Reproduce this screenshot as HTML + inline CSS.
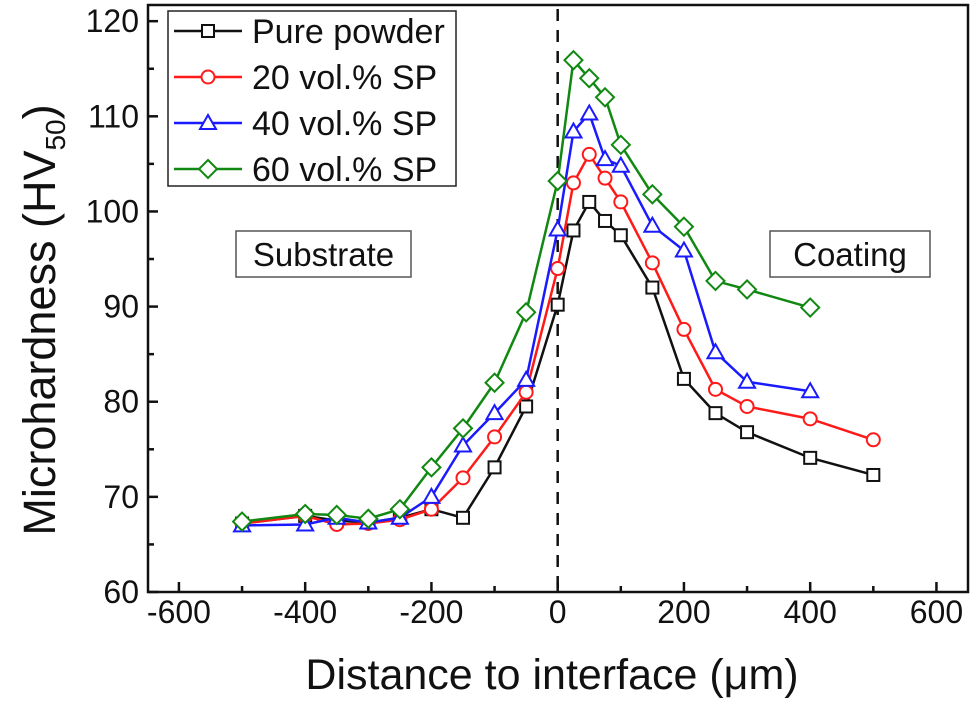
<!DOCTYPE html>
<html><head><meta charset="utf-8"><style>
body{margin:0;background:#fff;}
svg text{font-family:"Liberation Sans",Arial,sans-serif;fill:#111;}
</style></head><body>
<svg id="chart" width="975" height="703"></svg>
<script>
const xValues=[-500,-400,-350,-300,-250,-200,-150,-100,-50,0,25,50,75,100,150,200,250,300,400,500];
const purePowder=[67.2,68.0,67.5,67.3,67.8,68.7,67.8,73.1,79.5,90.2,98,101,99,97.5,92,82.4,78.8,76.8,74.1,72.3];
const sp20=[67.2,68.0,67.1,67.2,67.6,68.7,72,76.3,81,94,103,106,103.5,101,94.6,87.6,81.3,79.5,78.2,76];
const sp40=[67,67.1,67.8,67.3,67.8,70,75.4,78.8,82.3,98.1,108.4,110.3,105.5,104.8,98.5,95.9,85.2,82.1,81.1];
const sp60=[67.4,68.2,68.1,67.7,68.7,73.1,77.2,82,89.4,103.2,115.9,114,112,107,101.8,98.4,92.7,91.8,89.9];
const xTicks=[-600,-400,-200,0,200,400,600];
const yTicks=[60,70,80,90,100,110,120];
const seriesNames=["Pure powder","20 vol.% SP","40 vol.% SP","60 vol.% SP"];

const NS="http://www.w3.org/2000/svg";
const svg=document.getElementById('chart');
const L=148,R=968,T=5,B=592;
const xMin=-649,xMax=650,yMin=60,yMax=121.7;
const sx=v=>L+(v-xMin)/(xMax-xMin)*(R-L);
const sy=v=>B-(v-yMin)/(yMax-yMin)*(B-T);
function mk(tag,attrs,parent){const e=document.createElementNS(NS,tag);for(const k in attrs)e.setAttribute(k,attrs[k]);(parent||svg).appendChild(e);return e;}

const frame=mk('rect',{x:L,y:T,width:R-L,height:B-T,fill:'none',stroke:'#111','stroke-width':2.5});



const il=mk('line',{x1:sx(0),x2:sx(0),y1:T+4,y2:B,stroke:'#111','stroke-width':2.5,'stroke-dasharray':'12,9'});



for(let v=-600;v<=600;v+=100){
  const major=xTicks.includes(v);
  const t=mk('line',{x1:sx(v),x2:sx(v),y1:B,y2:B-(major?10:6),stroke:'#111','stroke-width':2.5});
  
  
}
xTicks.forEach(v=>{
  const t=mk('text',{x:sx(v),y:B+31,'font-size':32,'text-anchor':'middle'});
  t.textContent=v;
  
  
});
for(let v=60;v<=120;v+=5){
  const major=yTicks.includes(v);
  const t=mk('line',{x1:L,x2:L+(major?10:6),y1:sy(v),y2:sy(v),stroke:'#111','stroke-width':2.5});
  
  
}
yTicks.forEach(v=>{
  const t=mk('text',{x:L-9,y:sy(v)+11,'font-size':32,'text-anchor':'end'});
  t.textContent=v;
  
  
});
const xt=mk('text',{x:552,y:689,'font-size':43,'text-anchor':'middle'});
xt.textContent='Distance to interface (μm)';


const yt=mk('text',{transform:'translate(55,320) rotate(-90)','font-size':45,'text-anchor':'middle'});
yt.innerHTML='Microhardness (HV<tspan font-size="28" dy="10">50</tspan><tspan dy="-10">)</tspan>';



function marker(g,type,x,y,color){
  let e;
  if(type==='square')e=mk('rect',{x:x-6,y:y-6,width:12,height:12},g);
  else if(type==='circle')e=mk('circle',{cx:x,cy:y,r:6.5},g);
  else if(type==='triangle')e=mk('polygon',{points:`${x},${y-8} ${x-8},${y+6} ${x+8},${y+6}`},g);
  else e=mk('polygon',{points:`${x},${y-9} ${x+9},${y} ${x},${y+9} ${x-9},${y}`},g);
  e.setAttribute('fill','#fff');e.setAttribute('stroke',color);e.setAttribute('stroke-width',2);
  return e;
}
const series=[[purePowder,'#111','square','series-pure-powder'],[sp20,'#ff1a1a','circle','series-20-vol-sp'],[sp40,'#1a1aff','triangle','series-40-vol-sp'],[sp60,'#118811','diamond','series-60-vol-sp']];
series.forEach(([vals,color,type,name])=>{
  const g=mk('g',{});
  
  
  const pts=vals.map((v,i)=>sx(xValues[i])+','+sy(v)).join(' ');
  mk('polyline',{points:pts,fill:'none',stroke:color,'stroke-width':2.5},g);
  vals.forEach((v,i)=>{
    const m=marker(g,type,sx(xValues[i]),sy(v),color);
    
    
  });
});

const lg=mk('g',{});


mk('rect',{x:168,y:11,width:288,height:175,fill:'#fff',stroke:'#222','stroke-width':1.5},lg);
series.forEach(([vals,color,type,name],i)=>{
  const y=31+i*46;
  const e=mk('g',{},lg);
  
  
  mk('line',{x1:174,x2:242,y1:y,y2:y,stroke:color,'stroke-width':2.5},e);
  marker(e,type,208,y,color);
  const t=mk('text',{x:252,y:y+12,'font-size':34},e);
  t.textContent=seriesNames[i];
});

function box(x,y,w,h,label,name){
  const g=mk('g',{});
  
  
  mk('rect',{x,y,width:w,height:h,fill:'#fff',stroke:'#555','stroke-width':1.5},g);
  const t=mk('text',{x:x+w/2,y:y+h/2+12,'font-size':33,'text-anchor':'middle'},g);
  t.textContent=label;
}
box(236,231,175,46,'Substrate','substrate-label');
box(770,231,160,46,'Coating','coating-label');
</script>
</body></html>
